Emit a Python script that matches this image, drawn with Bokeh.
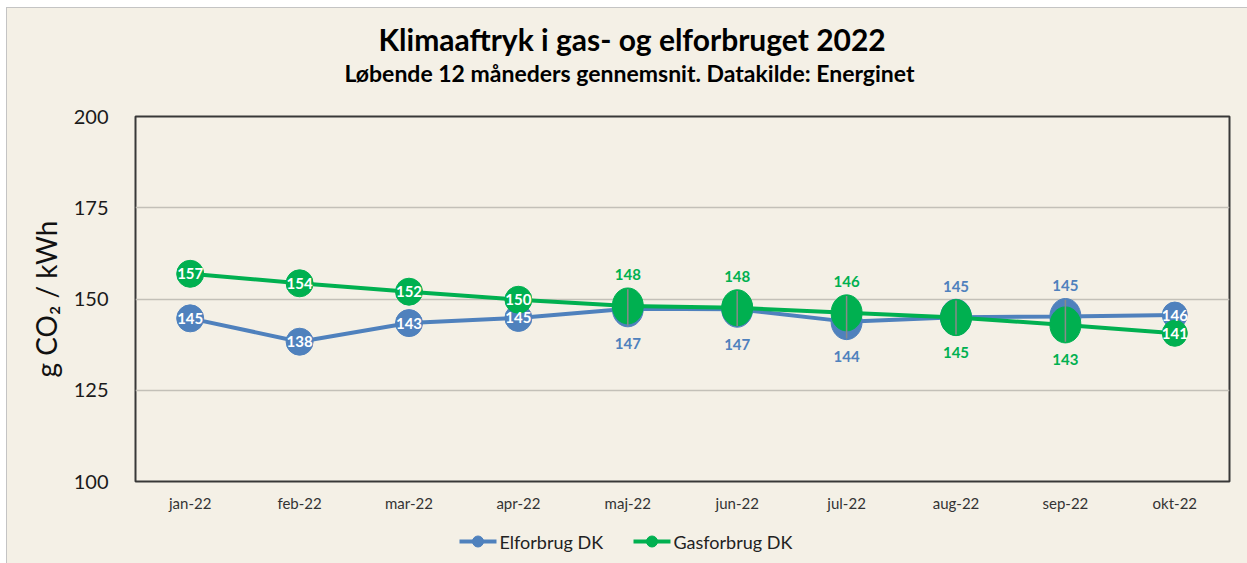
from bokeh.plotting import figure
from bokeh.layouts import column
from bokeh.models import (ColumnDataSource, FactorRange, Range1d, Title, FixedTicker)
from bokeh.core.properties import value
from bokeh.embed import file_html
from bokeh.resources import INLINE

months = ["jan-22", "feb-22", "mar-22", "apr-22", "maj-22", "jun-22",
          "jul-22", "aug-22", "sep-22", "okt-22"]
el_values = [144.7, 138.3, 143.4, 144.8, 147.3, 147.2, 143.8, 145.0, 145.2, 145.6]
gas_values = [156.9, 154.3, 152.0, 149.8, 148.1, 147.6, 146.2, 144.9, 142.9, 140.6]
y_ticks = [100, 125, 150, 175, 200]
series_names = ["Elforbrug DK", "Gasforbrug DK"]

title_text = "Klimaaftryk i gas- og elforbruget 2022"
subtitle_text = "Løbende 12 måneders gennemsnit. Datakilde: Energinet"
y_label = "g CO₂ / kWh"

BG = "#F4F0E6"
BLUE = "#4F81BD"
GREEN = "#00B050"
FONT = "Lato"

inside = [True, True, True, True, False, False, False, False, False, True]
big = [False, False, False, False, True, True, True, True, True, False]

W, H_MAIN, H_LEG = 1240, 515, 40

p = figure(width=W, height=H_MAIN, x_range=FactorRange(factors=months, range_padding=0),
           y_range=Range1d(100, 200), output_backend="svg", toolbar_location=None,
           min_border_left=128, min_border_right=18, min_border_top=108,
           min_border_bottom=42, background_fill_color=BG, border_fill_color=BG,
           outline_line_color="#383838", outline_line_width=2)
p.title.visible = False

p.xgrid.grid_line_color = None
p.ygrid.grid_line_color = "#C3C0B8"
p.ygrid.grid_line_width = 1.5
p.yaxis.ticker = FixedTicker(ticks=y_ticks)
for ax in (p.xaxis, p.yaxis):
    ax.axis_line_color = None
    ax.major_tick_line_color = None
    ax.minor_tick_line_color = None
    ax.major_tick_out = 0
    ax.major_tick_in = 0
p.yaxis.major_label_text_font = FONT
p.yaxis.major_label_text_font_size = "20px"
p.yaxis.major_label_text_color = "#1a1a1a"
p.yaxis.major_label_standoff = 27
p.yaxis.axis_label = y_label
p.yaxis.axis_label_text_font = FONT
p.yaxis.axis_label_text_font_style = "normal"
p.yaxis.axis_label_text_font_size = "28px"
p.yaxis.axis_label_text_color = "#111111"
p.yaxis.axis_label_standoff = 8
p.xaxis.major_label_text_font = FONT
p.xaxis.major_label_text_font_size = "15px"
p.xaxis.major_label_text_color = "#333333"
p.xaxis.major_label_standoff = 12

w = [31 if b else 27 for b in big]
h = [36 if b else 27 for b in big]
w[-1] = 25
h[-1] = 26

el_src = ColumnDataSource(dict(x=months, y=el_values, w=w, h=h))
gas_src = ColumnDataSource(dict(x=months, y=gas_values, w=w, h=h))

p.line("x", "y", source=el_src, line_color=BLUE, line_width=4)
p.ellipse("x", "y", width="w", height="h", width_units="screen",
          height_units="screen", source=el_src, fill_color=BLUE, line_color=BLUE)
p.line("x", "y", source=gas_src, line_color=GREEN, line_width=4)
p.ellipse("x", "y", width="w", height="h", width_units="screen",
          height_units="screen", source=gas_src, fill_color=GREEN, line_color=GREEN)

bx, btop, bbot = [], [], []
for m, e, g, b in zip(months, el_values, gas_values, big):
    if b:
        bx.append(m)
        btop.append(max(e, g) + 4.6)
        bbot.append(min(e, g) - 4.6)
p.segment(x0=bx, y0=btop, x1=bx, y1=bbot, line_color="#8A8A8A", line_width=1.5)

lx, ly, lt, lc, lo = [], [], [], [], []
for m, e, g, ins in zip(months, el_values, gas_values, inside):
    for v, col, other in ((e, BLUE, g), (g, GREEN, e)):
        lx.append(m)
        ly.append(v)
        lt.append(f"{v:.0f}")
        if ins:
            lc.append("white")
            lo.append(0)
        else:
            lc.append(col)
            lo.append(-31 if v > other or (v == other and col == GREEN) else 35)
lab_src = ColumnDataSource(dict(x=lx, y=ly, t=lt, c=lc, o=lo))
p.text("x", "y", text="t", source=lab_src, text_color="c", y_offset="o",
       text_align="center", text_baseline="middle", text_font=value(FONT),
       text_font_size="15px", text_font_style="bold")

# stacked above panels: spacer nearest the frame, then subtitle, then title
p.add_layout(Title(text=" ", text_font_size="1px", standoff=27), "above")
p.add_layout(Title(text=subtitle_text, text_font=FONT, text_font_size="23px",
                   text_font_style="bold", align="left", offset=209,
                   standoff=0, text_color="#000000"), "above")
p.add_layout(Title(text=title_text, text_font=FONT, text_font_size="30px",
                   text_font_style="bold", align="left", offset=243,
                   standoff=0, text_color="#000000"), "above")

# legend strip below the chart (its frame is aligned with the main frame,
# so its x range is expressed in page pixels of that frame)
leg = figure(width=W, height=H_LEG, x_range=Range1d(135, 1229), y_range=Range1d(0, H_LEG),
             output_backend="svg", toolbar_location=None, min_border=0,
             x_axis_type=None, y_axis_type=None,
             background_fill_color=BG, border_fill_color=BG, outline_line_color=None)
leg.grid.visible = False
leg_x0 = [459, 633]
leg_cols = [BLUE, GREEN]
leg_src = ColumnDataSource(dict(
    x0=leg_x0, x1=[x + 37 for x in leg_x0], xc=[x + 18.5 for x in leg_x0],
    xt=[x + 40 for x in leg_x0], y=[22, 22], c=leg_cols, t=series_names))
leg.segment("x0", "y", "x1", "y", source=leg_src, line_color="c", line_width=4)
leg.scatter("xc", "y", source=leg_src, size=11, fill_color="c", line_color="c")
leg.text("xt", "y", text="t", source=leg_src, text_baseline="middle",
         text_align="left", text_font=value(FONT), text_font_size="18px",
         text_color="#222222")

layout = column(p, leg, spacing=0)

html = file_html(layout, INLINE)
css = ("<style>html{background:#ffffff;padding:7px 0 0 6px;margin:0;}"
       "body{margin:0;padding:0;background:" + BG + ";"
       "border-left:1px solid #c4c4c4;border-top:1px solid #c4c4c4;overflow:hidden;}</style>")
html = html.replace("</head>", css + "</head>", 1)
open("out.html", "w").write(html)
